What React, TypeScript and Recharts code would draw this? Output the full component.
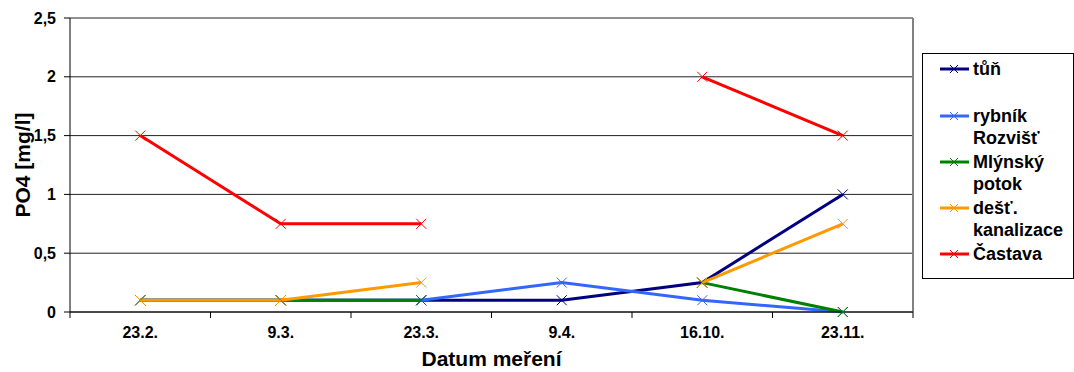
import React from 'react'
import { LineChart, Line, XAxis, YAxis, CartesianGrid, ReferenceLine, Label } from 'recharts'

const DATES = ['23.2.', '9.3.', '23.3.', '9.4.', '16.10.', '23.11.']
const Y_TICKS = [0, 0.5, 1, 1.5, 2, 2.5]

// PO4 values per site, null = not measured
const TUN = [0.1, 0.1, 0.1, 0.1, 0.25, 1]
const RYBNIK = [0.1, 0.1, 0.1, 0.25, 0.1, 0]
const MLYNSKY = [0.1, 0.1, 0.1, null, 0.25, 0]
const DEST = [0.1, 0.1, 0.25, null, 0.25, 0.75]
const CASTAVA = [1.5, 0.75, 0.75, null, 2, 1.5]

const SERIES = [
  { key: 'tun', name: 'tůň', lines: ['tůň'], color: '#000080', values: TUN, gap: 25 },
  { key: 'rybnik', name: 'rybník Rozvišť', lines: ['rybník', 'Rozvišť'], color: '#3366FF', values: RYBNIK, gap: 2 },
  { key: 'mlynsky', name: 'Mlýnský potok', lines: ['Mlýnský', 'potok'], color: '#008000', values: MLYNSKY, gap: 2 },
  { key: 'dest', name: 'dešť. kanalizace', lines: ['dešť.', 'kanalizace'], color: '#FF9900', values: DEST, gap: 2 },
  { key: 'castava', name: 'Častava', lines: ['Častava'], color: '#FF0000', values: CASTAVA, gap: 0 },
]

const data = DATES.map((d, i) => {
  const row: Record<string, number | string | null> = { x: i + 0.5, date: d }
  SERIES.forEach(s => { row[s.key] = s.values[i] })
  return row
})

const W = 1074
const H = 372
const PLOT_LEFT = 70
const PLOT_RIGHT = 913
const STEP = (PLOT_RIGHT - PLOT_LEFT) / DATES.length
const FONT = 'Liberation Sans, Arial, sans-serif'

const XDot = (props: any) => {
  const { cx, cy, stroke, value } = props
  if (value == null || cy == null || cx == null) return null
  const r = 5
  return (
    <path
      d={`M${cx - r},${cy - r}L${cx + r},${cy + r}M${cx - r},${cy + r}L${cx + r},${cy - r}`}
      stroke={stroke}
      strokeWidth={1}
      fill="none"
    />
  )
}

// tick marks sit between dates, labels sit in the middle of each slot
const DateTick = (props: any) => {
  const { x, y, payload } = props
  const i = payload.value
  return (
    <g>
      <line x1={x} y1={y - 8} x2={x} y2={y - 2} stroke="#000" strokeWidth={1} />
      {i < DATES.length && (
        <text x={x + STEP / 2} y={y + 18} textAnchor="middle" fontSize={16} fontWeight="bold" fill="#000" fontFamily={FONT}>
          {DATES[i]}
        </text>
      )}
    </g>
  )
}

const LegendBox = () => (
  <div
    style={{
      position: 'absolute',
      left: 922,
      top: 53,
      border: '1px solid #000',
      width: 152,
      height: 226,
      boxSizing: 'border-box',
      padding: '4px 0 0 17px',
      fontFamily: FONT,
      fontWeight: 'bold',
      fontSize: 18,
      lineHeight: '22px',
      color: '#000',
      background: '#fff',
    }}
  >
    {SERIES.map(s => (
      <div key={s.key} style={{ display: 'flex', alignItems: 'flex-start', marginBottom: s.gap }}>
        <svg width={33} height={22} style={{ flex: 'none' }}>
          <line x1={0} y1={11} x2={29} y2={11} stroke={s.color} strokeWidth={3} />
          <path d="M10,7L18,15M10,15L18,7" stroke={s.color} strokeWidth={1} />
        </svg>
        <div>
          {s.lines.map(t => <div key={t}>{t}</div>)}
        </div>
      </div>
    ))}
  </div>
)

export default function App() {
  return (
    <div style={{ position: 'fixed', left: 0, top: 0, width: W, height: H, background: '#fff' }}>
      <LineChart width={W} height={H} data={data} margin={{ top: 18, right: W - PLOT_RIGHT, bottom: 0, left: 10 }}>
        <CartesianGrid vertical={false} stroke="#222" strokeOpacity={1} />
        <XAxis
          dataKey="x"
          type="number"
          domain={[0, DATES.length]}
          ticks={[0, 1, 2, 3, 4, 5, 6]}
          interval={0}
          height={60}
          axisLine={{ stroke: '#000' }}
          tickLine={false}
          tick={<DateTick />}
        >
          <Label
            value="Datum meření"
            position="insideBottom"
            offset={6}
            style={{ fontSize: 21, fontWeight: 'bold', fill: '#000', fontFamily: FONT }}
          />
        </XAxis>
        <YAxis
          domain={[0, 2.5]}
          ticks={Y_TICKS}
          width={60}
          interval={0}
          tickSize={6}
          tickMargin={8}
          axisLine={{ stroke: '#000' }}
          tickLine={{ stroke: '#000' }}
          tickFormatter={(v: number) => String(v).replace('.', ',')}
          tick={{ fontSize: 16, fontWeight: 'bold', fill: '#000', fontFamily: FONT }}
        >
          <Label
            content={(p: any) => {
              const vb = p.viewBox
              const cy = vb.y + vb.height / 2
              return (
                <text
                  x={22}
                  y={cy}
                  transform={`rotate(-90, 22, ${cy})`}
                  textAnchor="middle"
                  dominantBaseline="central"
                  fontSize={21}
                  fontWeight="bold"
                  fill="#000"
                  fontFamily={FONT}
                >
                  PO4 [mg/l]
                </text>
              )
            }}
          />
        </YAxis>
        <ReferenceLine x={DATES.length} stroke="#808080" strokeWidth={2} />
        {SERIES.map(s => (
          <Line
            key={s.key}
            dataKey={s.key}
            name={s.name}
            type="linear"
            stroke={s.color}
            strokeWidth={3}
            dot={<XDot />}
            activeDot={false}
            connectNulls={false}
            isAnimationActive={false}
          />
        ))}
      </LineChart>
      <LegendBox />
    </div>
  )
}
